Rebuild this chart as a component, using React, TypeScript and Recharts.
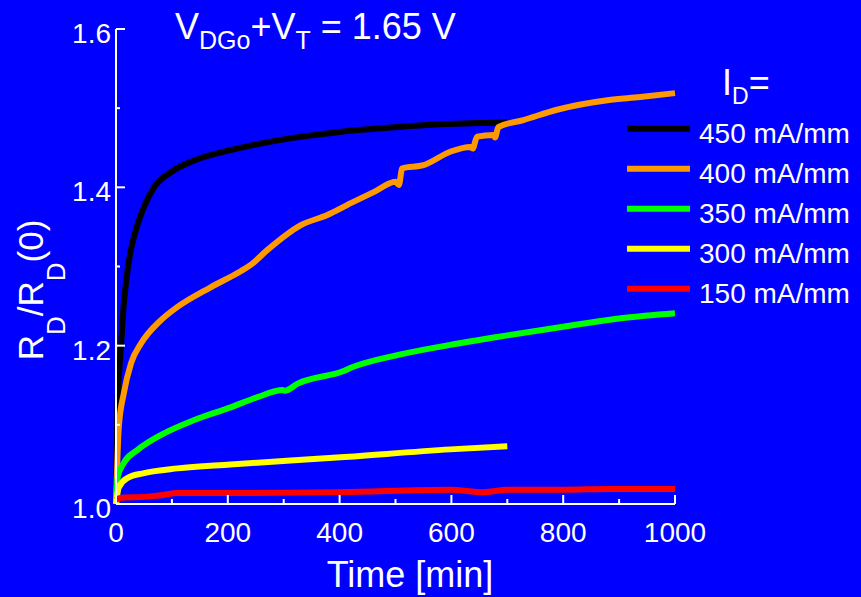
import { LineChart, Line, XAxis, YAxis, Legend, Customized } from 'recharts';

const FONT = '"Liberation Sans", Arial, Helvetica, sans-serif';
const BG = '#0000FF';

// time [min] and R_D/R_D(0)
const t450 = [0, 2.5, 6, 9, 13, 18, 25, 32, 50, 68, 98, 140, 205, 295, 400, 500, 590, 700];
const r450 = [1.0, 1.12, 1.17, 1.2, 1.245, 1.28, 1.315, 1.337, 1.375, 1.4, 1.419, 1.434, 1.447, 1.46, 1.47, 1.476, 1.48, 1.482];

const t400 = [0, 5, 14, 27, 45, 80, 110, 170, 223, 241, 271, 330, 378, 420, 461, 500, 506, 512, 550, 598, 634, 638, 646, 675, 678, 684, 729, 789, 879, 938, 1000];
const r400 = [1.0, 1.097, 1.14, 1.178, 1.203, 1.232, 1.249, 1.274, 1.294, 1.302, 1.321, 1.352, 1.365, 1.38, 1.394, 1.407, 1.403, 1.424, 1.428, 1.445, 1.451, 1.449, 1.464, 1.466, 1.463, 1.476, 1.485, 1.498, 1.51, 1.514, 1.519];

const t350 = [0, 3, 14, 38, 80, 140, 205, 253, 298, 302, 325, 407, 420, 503, 598, 700, 800, 907, 1000];
const r350 = [1.0, 1.034, 1.052, 1.068, 1.087, 1.106, 1.122, 1.135, 1.144, 1.143, 1.152, 1.168, 1.172, 1.188, 1.201, 1.213, 1.224, 1.235, 1.241];

const t300 = [0, 5, 21, 50, 110, 205, 402, 598, 700];
const r300 = [1.0, 1.021, 1.033, 1.039, 1.045, 1.05, 1.059, 1.069, 1.073];

const t150 = [0, 9, 50, 80, 110, 223, 402, 598, 657, 700, 800, 880, 1000];
const r150 = [1.005, 1.008, 1.009, 1.011, 1.014, 1.014, 1.015, 1.018, 1.015, 1.018, 1.018, 1.019, 1.019];

const xTicks = [0, 100, 200, 300, 400, 500, 600, 700, 800, 900, 1000];
const yTicks = [1.0, 1.1, 1.2, 1.3, 1.4, 1.5, 1.6];

const toPoints = (t: number[], r: number[]) => t.map((x, i) => ({ t: x, r: r[i] }));

const series = [
  { name: '450 mA/mm', color: '#000000', data: toPoints(t450, r450) },
  { name: '400 mA/mm', color: '#FF9900', data: toPoints(t400, r400) },
  { name: '350 mA/mm', color: '#00FF00', data: toPoints(t350, r350) },
  { name: '300 mA/mm', color: '#FFFF00', data: toPoints(t300, r300) },
  { name: '150 mA/mm', color: '#FF0000', data: toPoints(t150, r150) },
];
const order = series.map((s) => s.name);

const XTick = (props: any) => {
  const { x, y, payload } = props;
  const major = payload.value % 200 === 0;
  return (
    <g>
      <line x1={x} x2={x} y1={y} y2={y - (major ? 9 : 5)} stroke="#fff" strokeWidth={2} />
      {major && (
        <text x={x} y={y + 38} textAnchor="middle" fill="#fff" fontSize={28} fontFamily={FONT}>
          {payload.value}
        </text>
      )}
    </g>
  );
};

const YTick = (props: any) => {
  const { x, y, payload } = props;
  const major = Math.round(payload.value * 10) % 2 === 0;
  return (
    <g>
      <line x1={x} x2={x + (major ? 9 : 4)} y1={y} y2={y} stroke="#fff" strokeWidth={2} />
      {major && (
        <text x={x - 5} y={y + 14} textAnchor="end" fill="#fff" fontSize={28} fontFamily={FONT}>
          {payload.value.toFixed(1)}
        </text>
      )}
    </g>
  );
};

const YLabel = () => (
  <text
    x={43}
    y={290}
    transform="rotate(-90, 43, 290)"
    textAnchor="middle"
    fill="#fff"
    fontSize={35}
    fontFamily={FONT}
  >
    R<tspan fontSize={26} dy={22}>D</tspan>
    <tspan dy={-22}>/R</tspan>
    <tspan fontSize={26} dy={22}>D</tspan>
    <tspan dy={-22}>(0)</tspan>
  </text>
);

const XLabel = () => (
  <text x={410} y={587} textAnchor="middle" fill="#fff" fontSize={36} fontFamily={FONT}>
    Time [min]
  </text>
);

const Title = () => (
  <text x={175} y={39} fill="#fff" fontSize={36} fontFamily={FONT}>
    V<tspan fontSize={25} dy={10}>DGo</tspan>
    <tspan dy={-10}>+V</tspan>
    <tspan fontSize={25} dy={10}>T</tspan>
    <tspan dy={-10}> = 1.65 V</tspan>
  </text>
);

const renderLegend = (props: any) => {
  const payload = [...(props.payload || [])].sort(
    (a: any, b: any) => order.indexOf(a.value) - order.indexOf(b.value)
  );
  return (
    <svg width={241} height={270} style={{ display: 'block' }}>
      <text x={102} y={40} fill="#fff" fontSize={36} fontFamily={FONT}>
        I<tspan fontSize={23} dy={9}>D</tspan>
        <tspan dy={-9}>=</tspan>
      </text>
      {payload.map((entry: any, i: number) => (
        <g key={entry.value}>
          <line x1={7} x2={70} y1={73.7 + 40 * i} y2={73.7 + 40 * i} stroke={entry.color} strokeWidth={6} />
          <text x={79} y={88.3 + 40 * i} fill="#fff" fontSize={28} fontFamily={FONT}>
            {entry.value}
          </text>
        </g>
      ))}
    </svg>
  );
};

export default function App() {
  return (
    <div style={{ position: 'absolute', left: 0, top: 0, width: 861, height: 597, background: BG }}>
      <LineChart width={861} height={597} margin={{ top: 29, right: 186, bottom: 0, left: 0 }}>
        <XAxis
          type="number"
          dataKey="t"
          domain={[0, 1000]}
          ticks={xTicks}
          interval={0}
          height={93}
          tickSize={0}
          tickMargin={0}
          tickLine={false}
          tick={<XTick />}
          axisLine={{ stroke: '#fff', strokeWidth: 2 }}
          allowDuplicatedCategory={false}
          label={<XLabel />}
        />
        <YAxis
          type="number"
          dataKey="r"
          domain={[1.0, 1.6]}
          ticks={yTicks}
          interval={0}
          width={116}
          tickSize={0}
          tickMargin={0}
          tickLine={false}
          tick={<YTick />}
          axisLine={{ stroke: '#fff', strokeWidth: 2 }}
          label={<YLabel />}
        />
        <Legend
          content={renderLegend}
          layout="vertical"
          align="center"
          verticalAlign="middle"
          wrapperStyle={{ left: 620, top: 55, width: 241, height: 270 }}
        />
        {series.map((s) => (
          <Line
            key={s.name}
            data={s.data}
            dataKey="r"
            name={s.name}
            type="monotone"
            stroke={s.color}
            strokeWidth={6}
            dot={false}
            activeDot={false}
            isAnimationActive={false}
          />
        ))}
        <Customized component={<Title />} />
      </LineChart>
    </div>
  );
}
